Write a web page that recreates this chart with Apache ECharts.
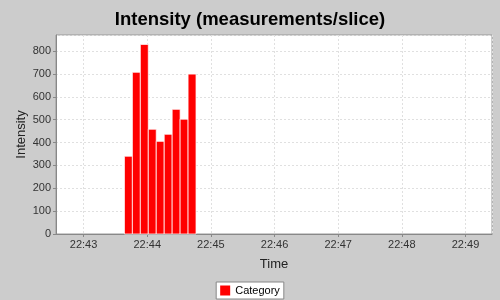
<!DOCTYPE html>
<html>
<head>
<meta charset="utf-8">
<script src="https://cdn.jsdelivr.net/npm/echarts@6/dist/echarts.min.js"></script>
<style>html,body{margin:0;padding:0;background:#cccccc;}#c{width:500px;height:300px;}</style>
</head>
<body>
<div id="c"></div>
<script>
// Data
const titleText = 'Intensity (measurements/slice)';
const seriesName = 'Category';
const sliceStarts = ['22:43:38.5','22:43:46','22:43:53.5','22:44:01','22:44:08.5','22:44:16','22:44:23.5','22:44:31','22:44:38.5'];
const sliceSeconds = 7.5;
const intensities = [340, 707, 829, 458, 405, 436, 545, 502, 699];
const axisStart = '22:42:34';
const axisEnd = '22:49:25';
const yMax = 870;

function toMs(t) {
  const p = t.split(':');
  return Date.UTC(2020, 0, 1, +p[0], +p[1], 0) + Math.round(parseFloat(p[2]) * 1000);
}
const pad = n => (n < 10 ? '0' : '') + n;
const data = sliceStarts.map((s, i) => [toMs(s), toMs(s) + sliceSeconds * 1000, intensities[i]]);

const chart = echarts.init(document.getElementById('c'), null, {renderer: 'canvas'});
chart.setOption({
  useUTC: true,
  animation: false,
  backgroundColor: '#cccccc',
  textStyle: {fontFamily: 'Liberation Sans, Arial, sans-serif'},
  title: {
    text: titleText, left: 'center', top: 5,
    textStyle: {fontSize: 18.5, fontWeight: 'bold', color: '#000', fontFamily: 'Liberation Sans, Arial, sans-serif'}
  },
  legend: {
    data: [seriesName], bottom: 1, left: 'center',
    icon: 'rect', itemWidth: 10, itemHeight: 10, itemGap: 4,
    backgroundColor: '#fff', borderColor: '#888', borderWidth: 1, borderRadius: 0,
    padding: [3, 4, 3, 4],
    textStyle: {fontSize: 11, color: '#000'}
  },
  grid: {left: 56, right: 8, top: 35, bottom: 66, show: true, backgroundColor: '#fff', borderColor: '#999', borderWidth: 1, containLabel: false},
  xAxis: {
    type: 'time', min: toMs(axisStart), max: toMs(axisEnd),
    minInterval: 60000, maxInterval: 60000,
    name: 'Time', nameLocation: 'middle', nameGap: 24, nameMoveOverlap: false,
    nameTextStyle: {fontSize: 13, color: '#222'},
    axisLine: {show: true, lineStyle: {color: '#888'}},
    axisTick: {show: true, length: 3, lineStyle: {color: '#888'}},
    axisLabel: {fontSize: 11, color: '#333', margin: 5, hideOverlap: false,
      formatter: v => { const d = new Date(v); return pad(d.getUTCHours()) + ':' + pad(d.getUTCMinutes()); }},
    splitLine: {show: true, lineStyle: {color: '#e0e0e0', type: [2, 2]}},
    minorTick: {show: false}
  },
  yAxis: {
    type: 'value', min: 0, max: yMax, interval: 100,
    name: 'Intensity', nameLocation: 'middle', nameGap: 28, nameRotate: 90, nameMoveOverlap: false,
    nameTextStyle: {fontSize: 13, color: '#222'},
    axisLine: {show: true, lineStyle: {color: '#888'}},
    axisTick: {show: true, length: 3, lineStyle: {color: '#888'}},
    axisLabel: {fontSize: 11, color: '#333', margin: 5, showMaxLabel: false},
    splitLine: {show: true, lineStyle: {color: '#e0e0e0', type: [2, 2]}}
  },
  series: [{
    name: seriesName, type: 'custom',
    itemStyle: {color: '#ff0000'},
    encode: {x: [0, 1], y: 2},
    data: data,
    renderItem: function (params, api) {
      const p0 = api.coord([api.value(0), api.value(2)]);
      const p1 = api.coord([api.value(1), 0]);
      return {
        type: 'rect',
        shape: {x: p0[0], y: p0[1], width: p1[0] - p0[0], height: p1[1] - p0[1]},
        style: {fill: '#ff0000', stroke: 'rgba(255,255,255,0.75)', lineWidth: 1}
      };
    }
  }]
});
</script>
</body>
</html>
